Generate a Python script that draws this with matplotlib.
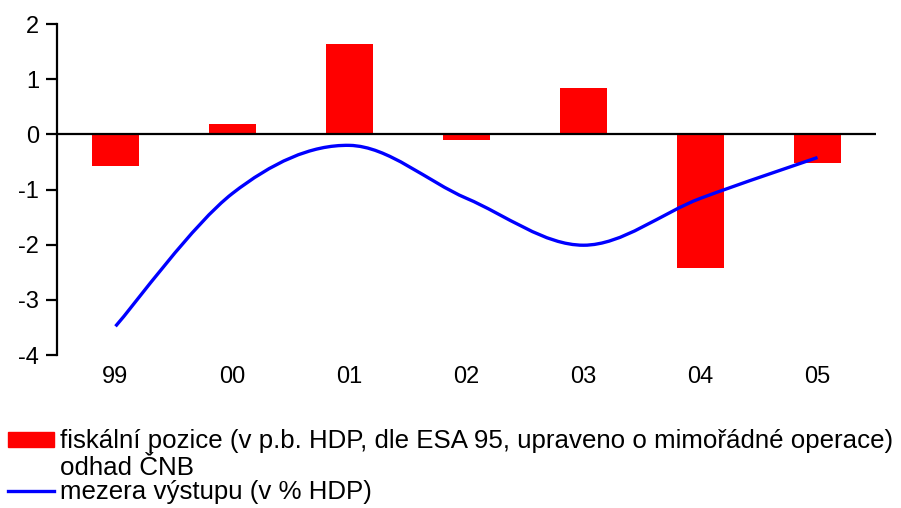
import matplotlib
matplotlib.use('Agg')
import matplotlib.pyplot as plt
from matplotlib.path import Path
from matplotlib.patches import PathPatch, Rectangle
from matplotlib.lines import Line2D

plt.rcParams['font.family'] = ['Liberation Sans', 'DejaVu Sans']

# data
years = ['99', '00', '01', '02', '03', '04', '05']
fiscal = [-0.57, 0.18, 1.64, -0.10, 0.84, -2.42, -0.52]
output_gap = [-3.48, -1.07, -0.20, -1.16, -2.01, -1.16, -0.42]
y_ticks = [2, 1, 0, -1, -2, -3, -4]

label_fiscal = 'fiskální pozice (v p.b. HDP, dle ESA 95, upraveno o mimořádné operace)'
label_fiscal2 = 'odhad ČNB'
label_gap = 'mezera výstupu (v % HDP)'

W, H = 901, 508
fig = plt.figure(figsize=(W / 100, H / 100), dpi=100)
ax = fig.add_axes([57 / W, 1 - 355 / H, (876 - 57) / W, (355 - 24) / H])

x = list(range(len(years)))
ax.bar(x, fiscal, width=0.41, color='#ff0000', zorder=2)

# smoothed line (Excel-like Catmull-Rom bezier through the points)
verts = [(x[0], output_gap[0])]
codes = [Path.MOVETO]
n = len(x)
for i in range(n - 1):
    p0 = (x[max(i - 1, 0)], output_gap[max(i - 1, 0)])
    p1 = (x[i], output_gap[i])
    p2 = (x[i + 1], output_gap[i + 1])
    p3 = (x[min(i + 2, n - 1)], output_gap[min(i + 2, n - 1)])
    c1 = (p1[0] + (p2[0] - p0[0]) / 6, p1[1] + (p2[1] - p0[1]) / 6)
    c2 = (p2[0] - (p3[0] - p1[0]) / 6, p2[1] - (p3[1] - p1[1]) / 6)
    verts += [c1, c2, p2]
    codes += [Path.CURVE4] * 3
ax.add_patch(PathPatch(Path(verts, codes), facecolor='none',
                       edgecolor='#0000ff', lw=2.4, zorder=3))

ax.axhline(0, color='black', lw=1.6, zorder=4)
ax.set_xlim(-0.5, len(years) - 0.5)
ax.set_ylim(-4, 2)
ax.set_yticks(y_ticks)
ax.set_yticklabels([str(v) for v in y_ticks])
ax.set_xticks(x)
ax.set_xticklabels(years)

for s in ['top', 'right', 'bottom']:
    ax.spines[s].set_visible(False)
ax.spines['left'].set_linewidth(1.6)
ax.tick_params(axis='y', length=8, width=1.6, labelsize=17, pad=5)
ax.tick_params(axis='x', length=0, labelsize=17, pad=8)

# legend below the plot
fig.patches.append(Rectangle((8 / W, 1 - 447 / H), 46 / W, 15 / H,
                             transform=fig.transFigure, color='#ff0000'))
fig.text(60 / W, 1 - 441 / H, label_fiscal, fontsize=18.6, va='center')
fig.text(60 / W, 1 - 468 / H, label_fiscal2, fontsize=18.6, va='center')
fig.lines.append(Line2D([8 / W, 54 / W], [1 - 491 / H, 1 - 491 / H],
                        transform=fig.transFigure, color='#0000ff', lw=2.4))
fig.text(60 / W, 1 - 492 / H, label_gap, fontsize=18.6, va='center')

plt.savefig('out.png', dpi=100)
